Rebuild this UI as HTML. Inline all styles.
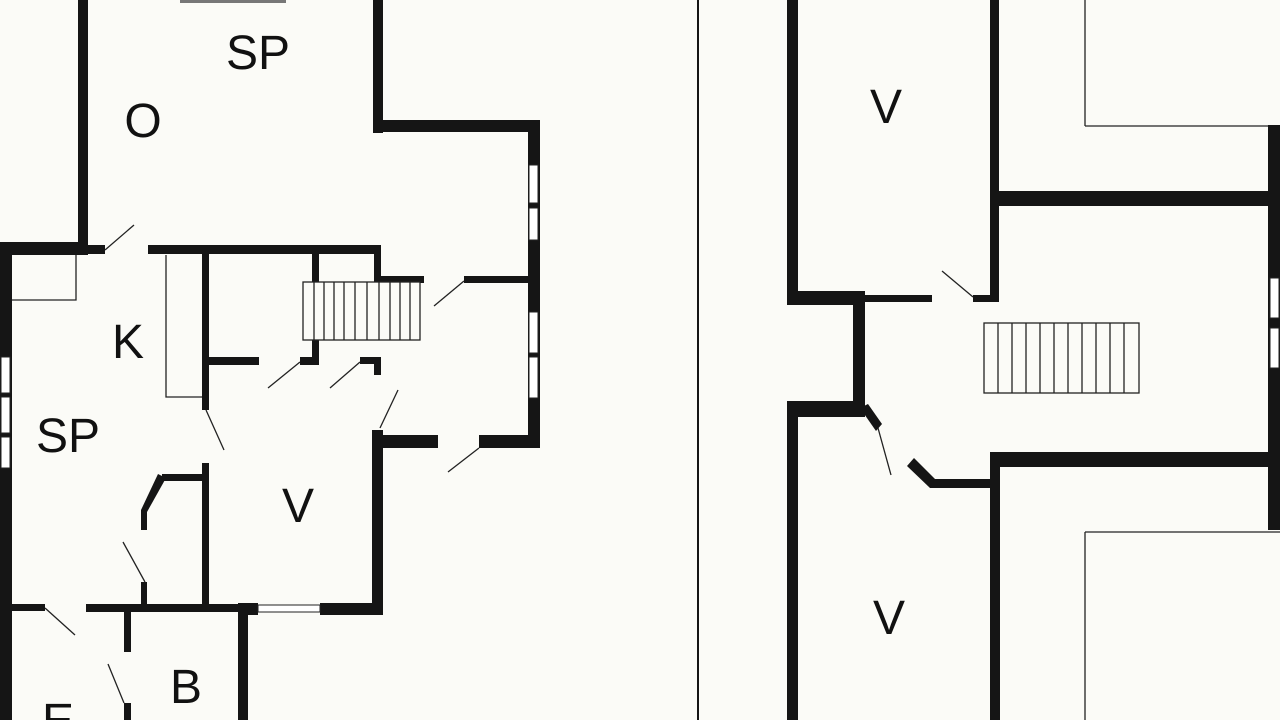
<!DOCTYPE html>
<html><head><style>
html,body{margin:0;padding:0;background:#fbfbf7;}
svg{display:block}
text{font-family:"Liberation Sans",sans-serif;fill:#111;font-size:48px}
</style></head><body>
<svg width="1280" height="720" viewBox="0 0 1280 720">
<rect width="1280" height="720" fill="#fbfbf7"/>
<g fill="#151515">
<rect x="180" y="0" width="106" height="3" fill="#777"/>
<rect x="78" y="0" width="10" height="255"/>
<rect x="373" y="0" width="10" height="133"/>
<rect x="373" y="120" width="165" height="12"/>
<rect x="528" y="120" width="12" height="328"/>
<rect x="0" y="242" width="86" height="13"/>
<rect x="86" y="245" width="19" height="9"/>
<rect x="148" y="245" width="233" height="9"/>
<rect x="0" y="242" width="12" height="478"/>
<rect x="202" y="254" width="7" height="156"/>
<rect x="202" y="463" width="7" height="148"/>
<rect x="312" y="250" width="7" height="114"/>
<rect x="209" y="357" width="50" height="8"/>
<rect x="300" y="357" width="19" height="8"/>
<rect x="360" y="357" width="21" height="7"/>
<rect x="374" y="357" width="7" height="18"/>
<rect x="374" y="245" width="7" height="38"/>
<rect x="374" y="276" width="50" height="7"/>
<rect x="464" y="276" width="70" height="7"/>
<rect x="372" y="430" width="11" height="185"/>
<rect x="372" y="435" width="66" height="13"/>
<rect x="479" y="435" width="61" height="13"/>
<rect x="162" y="474" width="42" height="7"/>
<polygon points="158,474 166,478 147,512 141,510"/>
<rect x="141" y="510" width="6" height="20"/>
<rect x="141" y="582" width="6" height="25"/>
<rect x="12" y="604" width="33" height="7"/>
<rect x="86" y="604" width="152" height="8"/>
<rect x="238" y="603" width="20" height="12"/>
<rect x="320" y="603" width="63" height="12"/>
<rect x="124" y="610" width="7" height="42"/>
<rect x="124" y="703" width="7" height="17"/>
<rect x="238" y="603" width="10" height="117"/>
<rect x="697" y="0" width="2" height="720"/>
<rect x="787" y="0" width="11" height="305"/>
<rect x="787" y="291" width="78" height="14"/>
<rect x="865" y="295" width="67" height="7"/>
<rect x="973" y="295" width="25" height="7"/>
<rect x="990" y="0" width="9" height="302"/>
<rect x="990" y="191" width="290" height="15"/>
<rect x="853" y="291" width="12" height="126"/>
<rect x="787" y="401" width="78" height="16"/>
<rect x="787" y="401" width="11" height="319"/>
<polygon points="860,408 868,404 882,424 876,431"/>
<polygon points="907,466 914,458 936,480 930,488"/>
<rect x="930" y="479" width="62" height="9"/>
<rect x="990" y="452" width="290" height="15"/>
<rect x="990" y="452" width="10" height="268"/>
<rect x="1268" y="125" width="12" height="405"/>
</g>
<g fill="#fff" stroke="#222" stroke-width="1">
<rect x="1" y="357" width="9" height="36"/><rect x="1" y="397" width="9" height="36"/><rect x="1" y="437" width="9" height="31"/>
<rect x="529" y="165" width="9" height="38"/><rect x="529" y="208" width="9" height="32"/>
<rect x="529" y="312" width="9" height="41"/><rect x="529" y="357" width="9" height="41"/>
<rect x="258" y="605" width="62" height="7"/>
<rect x="1270" y="278" width="9" height="40"/><rect x="1270" y="328" width="9" height="40"/>
</g>
<g fill="none" stroke="#222" stroke-width="1.3">
<polyline points="12,300 76,300 76,255"/>
<polyline points="166,255 166,397 202,397"/>
<rect x="303" y="282" width="117" height="58" fill="#fbfbf7"/>
<path d="M314 282V340M324 282V340M334 282V340M344 282V340M355 282V340M367 282V340M379 282V340M390 282V340M400 282V340M410 282V340"/>
<rect x="984" y="323" width="155" height="70" fill="#fbfbf7"/>
<path d="M998 323V393M1012 323V393M1026 323V393M1040 323V393M1054 323V393M1068 323V393M1082 323V393M1096 323V393M1110 323V393M1124 323V393"/>
<line x1="1085" y1="0" x2="1085" y2="126"/><line x1="1085" y1="126" x2="1268" y2="126"/>
<line x1="1085" y1="532" x2="1280" y2="532"/><line x1="1085" y1="532" x2="1085" y2="720"/>
<line x1="105" y1="250" x2="134" y2="225"/>
<line x1="206" y1="410" x2="224" y2="450"/>
<line x1="300" y1="362" x2="268" y2="388"/>
<line x1="360" y1="362" x2="330" y2="388"/>
<line x1="380" y1="428" x2="398" y2="390"/>
<line x1="464" y1="281" x2="434" y2="306"/>
<line x1="479" y1="448" x2="448" y2="472"/>
<line x1="145" y1="582" x2="123" y2="542"/>
<line x1="45" y1="608" x2="75" y2="635"/>
<line x1="124" y1="703" x2="108" y2="664"/>
<line x1="973" y1="297" x2="942" y2="271"/>
<line x1="878" y1="428" x2="891" y2="475"/>
</g>
<text x="258" y="69" text-anchor="middle">SP</text>
<text x="143" y="137" text-anchor="middle">O</text>
<text x="128" y="358" text-anchor="middle">K</text>
<text x="68" y="452" text-anchor="middle">SP</text>
<text x="298" y="522" text-anchor="middle">V</text>
<text x="186" y="703" text-anchor="middle">B</text>
<text x="58" y="737" text-anchor="middle">E</text>
<text x="886" y="123" text-anchor="middle">V</text>
<text x="889" y="634" text-anchor="middle">V</text>
</svg>
</body></html>
